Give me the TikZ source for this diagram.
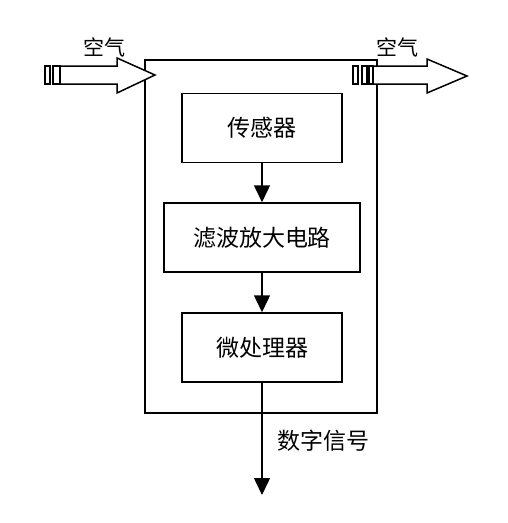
\documentclass[tikz,border=0pt]{standalone}
\usepackage{fontspec}
\newfontfamily\cjk{Noto Sans CJK SC}
\usepackage{tikz}
\usetikzlibrary{positioning,arrows.meta}
\tikzstyle{block} = [draw, line width=1.5pt, minimum height=69pt, inner sep=0pt, font=\cjk\fontsize{23}{23}\selectfont]
\tikzstyle{arrow} = [line width=1.5pt, -{Triangle[width=16pt,length=17pt]}]
\tikzstyle{hollow} = [draw, line width=1.5pt, fill=white]
\tikzstyle{lbl} = [font=\cjk\fontsize{21}{21}\selectfont]

\begin{document}
\begin{tikzpicture}[x=1pt,y=-1pt]
    \useasboundingbox (0,0) rectangle (507,523);
    % Outer housing
    \draw[line width=1.5pt] (145,60) rectangle (377,413);
    % Blocks
    \node[block, minimum width=160pt] (sensor) at (262,128) {传感器};
    \node[block, minimum width=196pt] (filter) at (262,237.5) {滤波放大电路};
    \node[block, minimum width=160pt] (mcu) at (262,347.5) {微处理器};
    \coordinate (out) at (262,495);
    \draw[arrow] (sensor) -- (filter);
    \draw[arrow] (filter) -- (mcu);
    \draw[arrow] (mcu) -- (out);
    \node[lbl, font=\cjk\fontsize{23}{23}\selectfont] (signal) at (323,441) {数字信号};
    % Air in
    \draw[hollow] (45,66) rectangle (50,84);
    \draw[hollow] (53,66) rectangle (60,84);
    \draw[hollow] (60,66) -- (117,66) -- (117,58) -- (155,75) -- (117,93) -- (117,84) -- (60,84) -- cycle;
    \node[lbl] (airin) at (104,47) {空气};
    % Air out
    \draw[hollow] (373,66) -- (427,66) -- (427,59) -- (467,76) -- (427,93) -- (427,84) -- (373,84) -- cycle;
    \draw[hollow] (353,66) rectangle (358,84);
    \draw[hollow] (362,66) rectangle (367,84);
    \draw[hollow] (369,66) rectangle (373,84);
    \node[lbl] (airout) at (397,47) {空气};
\end{tikzpicture}
\end{document}
